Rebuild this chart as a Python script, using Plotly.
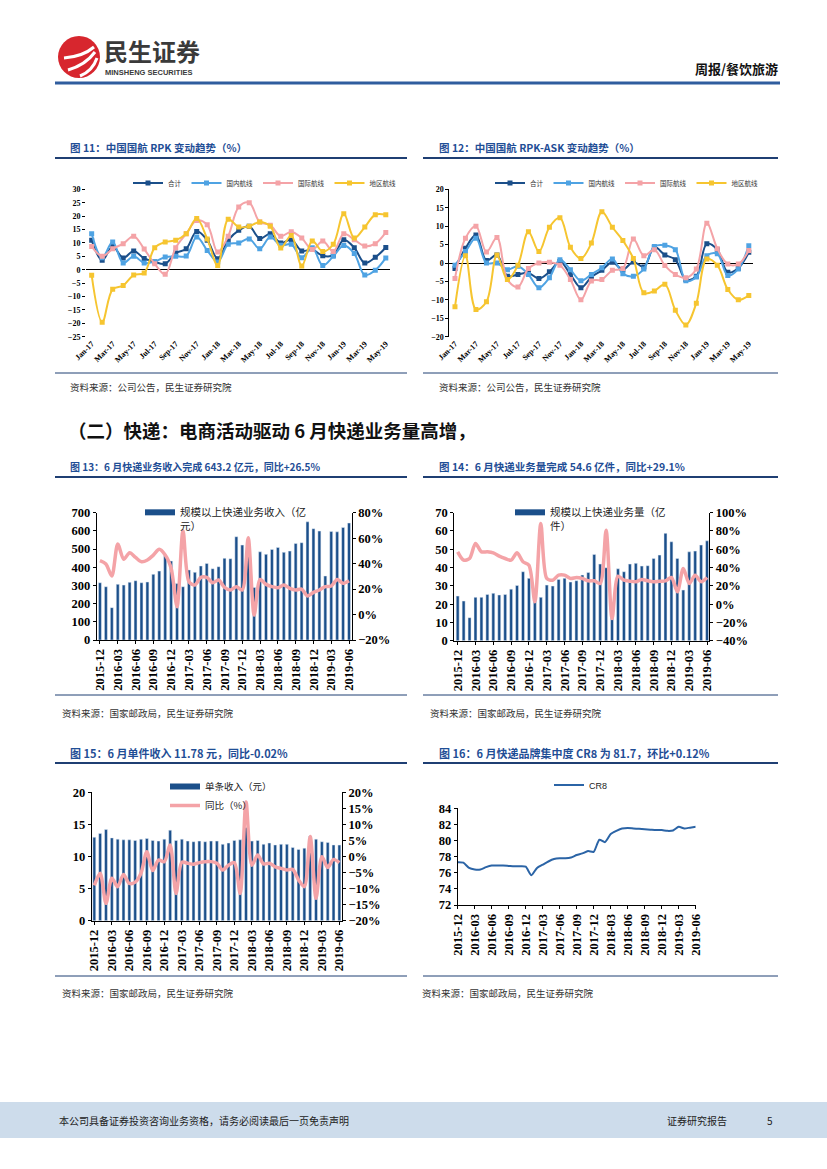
import plotly.graph_objects as go
import pandas as pd

W, H = 827, 1169
def fx(px): return px / W
def fy(py): return 1 - py / H

# ---------------- data ----------------
air_months = [d.strftime("%b-%y") for d in pd.date_range("2017-01-01", "2019-05-01", freq="MS")]
air_tick_labels = air_months[::2]
air_names = ["合计", "国内航线", "国际航线", "地区航线"]

rpk_total = [11.0,3.5,8.7,4.4,7.0,4.2,2.9,2.2,6.2,7.8,14.3,11.0,4.1,11.0,14.7,16.2,11.6,13.4,10.0,11.2,7.0,7.5,5.2,5.4,11.2,8.2,2.5,4.6,8.3]
rpk_dom = [13.4,4.5,10.3,2.5,5.0,2.5,3.0,4.7,5.0,5.1,12.2,7.2,2.9,9.5,10.0,11.5,7.8,12.2,9.1,9.5,4.5,8.2,1.6,5.0,9.0,6.0,-2.0,-0.2,4.4]
rpk_int = [8.7,5.0,7.8,9.7,12.5,7.7,2.2,-1.7,8.2,13.4,18.4,16.8,6.6,12.5,23.4,25.0,17.8,16.6,12.5,14.2,11.8,7.5,10.7,6.8,13.4,11.2,8.8,9.7,13.9]
rpk_reg = [-2.1,-19.6,-7.3,-5.9,-2.0,-1.2,8.2,10.3,11.0,13.4,19.1,11.5,1.6,18.8,15.9,16.2,17.8,16.2,8.1,12.8,1.4,10.7,6.8,9.5,20.9,11.8,15.9,20.5,20.5]

gap_total = [-1.5,4.0,7.6,0.7,2.2,-3.6,-3.1,-2.7,-4.2,-2.4,0.4,-3.1,-6.7,-3.8,-2.0,0.2,-1.8,0.3,-1.1,4.3,2.2,0.9,-4.5,-3.6,5.2,3.6,-2.5,-1.4,2.9]
gap_dom = [-0.6,3.1,6.7,0.0,0.0,-1.8,-0.9,-3.1,-6.7,-4.0,0.9,-1.8,-4.8,-3.1,-1.3,1.1,-2.9,-3.6,-1.6,4.5,4.8,3.6,-4.8,-3.8,2.0,2.5,-3.4,-1.6,4.7]
gap_int = [-4.2,6.7,10.0,3.0,6.9,-4.5,-6.5,-1.5,0.0,0.2,-0.6,-4.5,-10.0,-4.9,-4.5,-2.0,-1.5,6.5,2.0,3.6,-0.7,-3.1,-4.0,-1.6,10.8,3.9,-0.3,-0.3,3.4]
gap_reg = [-11.9,2.0,-12.6,-10.5,2.2,-4.5,-0.6,8.5,3.1,9.7,12.3,4.3,1.2,5.4,13.9,9.7,6.1,1.2,-8.1,-7.6,-5.8,-12.8,-16.8,-10.9,1.1,-0.6,-7.2,-10.0,-8.8]

exp_months = [d.strftime("%Y-%m") for d in pd.date_range("2015-12-01", "2019-06-01", freq="MS")]
exp_tick_labels = exp_months[::3]

exp_rev = [315,293,178,306,302,317,326,315,319,361,379,465,434,310,293,385,372,407,421,392,403,449,447,568,522,500,289,485,471,498,509,482,489,531,535,650,612,599,352,597,595,619,643.2]
exp_rev_yoy = [42.3,39.7,30.3,55.4,43.4,48.6,44.9,41.5,42.8,46.7,51.2,46.7,36.3,6.2,65.9,25.8,23.2,29.2,29.2,25.0,27.1,21.4,19.3,21.9,19.3,60.3,-0.4,27.6,23.7,21.9,21.1,23.2,20.6,19.3,20.0,14.6,17.4,19.3,21.9,22.4,27.6,24.5,26.5]
exp_vol = [24.4,21.7,12.6,23.7,23.7,25.3,25.9,25.0,25.3,28.2,30.2,37.7,34.1,22.0,23.7,30.4,29.9,33.5,34.1,32.1,32.8,35.9,37.3,47.2,41.9,39.9,20.0,39.3,37.7,41.9,42.3,40.8,41.0,45.0,46.8,58.7,54.1,45.0,27.7,48.6,49.0,52.3,54.6]
exp_vol_yoy = [57.2,48.1,49.9,66.3,57.2,57.2,56.1,52.5,49.9,48.1,56.1,46.3,42.6,2.6,88.2,28.1,26.2,31.7,31.7,28.1,29.1,28.1,25.5,25.5,22.6,80.9,-15.7,30.6,26.2,25.1,24.4,27.0,25.5,24.4,25.1,25.5,29.1,13.5,39.0,22.6,31.7,24.4,29.1]
exp_unit = [13.0,13.6,14.2,12.9,12.7,12.6,12.6,12.5,12.7,12.8,12.5,12.4,12.7,14.1,12.5,12.7,12.4,12.3,12.4,12.3,12.4,12.4,11.9,12.1,12.5,12.6,14.5,12.4,12.5,11.9,12.1,11.8,11.9,11.9,11.4,11.1,11.3,13.2,12.7,12.3,12.2,11.8,11.78]
exp_unit_yoy = [-9.0,-5.2,-14.6,-6.8,-9.4,-5.6,-8.4,-8.0,-5.2,1.5,-4.4,-1.1,-1.6,3.6,-11.5,-1.8,-2.1,-2.4,-1.9,-1.6,-1.6,-2.1,-4.2,-2.7,-1.9,-11.5,17.0,-2.7,0.5,-2.3,-2.1,-3.2,-3.7,-4.2,-4.0,-7.3,-9.4,6.2,-13.0,-0.1,-3.4,-0.9,-1.9]
exp_cr8 = [77.3,77.25,76.6,76.4,76.4,76.7,76.9,76.9,76.9,76.85,76.8,76.8,76.75,75.7,76.6,77.0,77.4,77.7,77.8,77.8,77.9,78.2,78.4,78.7,78.6,80.1,79.8,80.8,81.2,81.5,81.55,81.5,81.45,81.4,81.35,81.3,81.3,81.2,81.25,81.7,81.5,81.6,81.7]

# ---------------- styles ----------------
NAVY = "#1B4F8A"
LBLUE = "#4FA3E3"
PINK = "#F4A3A7"
YELLOW = "#F6C530"
CRBLUE = "#2B64A6"
TITLE_BLUE = "#1F4E96"
RULE = "#1F3F73"
SERIF = "Liberation Serif"
CJK = "Noto Sans CJK SC"

fig = go.Figure()

# ---- chart 11 / 12: airline lines ----
air_colors = [NAVY, LBLUE, PINK, YELLOW]
for series, (xa, ya, lg) in [([rpk_total, rpk_dom, rpk_int, rpk_reg], ("x", "y", "legend")),
                             ([gap_total, gap_dom, gap_int, gap_reg], ("x2", "y2", "legend2"))]:
    for name, vals, col in zip(air_names, series, air_colors):
        fig.add_trace(go.Scatter(
            x=air_months, y=vals, name=name, mode="lines+markers",
            line=dict(color=col, width=2, shape="spline", smoothing=1.0),
            marker=dict(symbol="square", size=5, color=col),
            xaxis=xa, yaxis=ya, legend=lg))

# ---- chart 13 ----
fig.add_trace(go.Bar(x=exp_months, y=exp_rev, marker_color=NAVY, width=0.5,
                     xaxis="x3", yaxis="y3", showlegend=False))
fig.add_trace(go.Scatter(x=exp_months, y=exp_rev_yoy, mode="lines",
                         line=dict(color=PINK, width=3.5, shape="spline", smoothing=0.8),
                         xaxis="x3", yaxis="y4", showlegend=False))
fig.add_trace(go.Scatter(x=[None], y=[None], mode="lines", line=dict(color=NAVY, width=6),
                         name="规模以上快递业务收入（亿<br>元）", xaxis="x3", yaxis="y3", legend="legend3"))

# ---- chart 14 ----
fig.add_trace(go.Bar(x=exp_months, y=exp_vol, marker_color=NAVY, width=0.5,
                     xaxis="x4", yaxis="y5", showlegend=False))
fig.add_trace(go.Scatter(x=exp_months, y=exp_vol_yoy, mode="lines",
                         line=dict(color=PINK, width=3.5, shape="spline", smoothing=0.8),
                         xaxis="x4", yaxis="y6", showlegend=False))
fig.add_trace(go.Scatter(x=[None], y=[None], mode="lines", line=dict(color=NAVY, width=6),
                         name="规模以上快递业务量（亿<br>件）", xaxis="x4", yaxis="y5", legend="legend4"))

# ---- chart 15 ----
fig.add_trace(go.Bar(x=exp_months, y=exp_unit, marker_color=NAVY, width=0.5,
                     xaxis="x5", yaxis="y7", showlegend=False))
fig.add_trace(go.Scatter(x=exp_months, y=exp_unit_yoy, mode="lines",
                         line=dict(color=PINK, width=3.5, shape="spline", smoothing=0.8),
                         xaxis="x5", yaxis="y8", showlegend=False))
fig.add_trace(go.Scatter(x=[None], y=[None], mode="lines", line=dict(color=NAVY, width=6),
                         name="单条收入（元）", xaxis="x5", yaxis="y7", legend="legend5"))
fig.add_trace(go.Scatter(x=[None], y=[None], mode="lines", line=dict(color=PINK, width=3.5),
                         name="同比（%）", xaxis="x5", yaxis="y8", legend="legend5"))

# ---- chart 16 ----
fig.add_trace(go.Scatter(x=exp_months, y=exp_cr8, mode="lines", name="CR8",
                         line=dict(color=CRBLUE, width=2, shape="spline", smoothing=0.6),
                         xaxis="x6", yaxis="y9", legend="legend6"))

# ---------------- axes ----------------
tick_serif = lambda s: dict(family=SERIF, size=s, color="black", weight="bold")

def air_x(dom, anchor):
    return dict(domain=[fx(dom[0]), fx(dom[1])], anchor=anchor, type="category",
                range=[-0.54, 28.4], tickmode="array", tickvals=air_tick_labels,
                tickangle=-45, tickfont=tick_serif(8), showline=False, showgrid=False,
                zeroline=False, ticks="", automargin=False)

def air_y(dom, anchor, rng, line):
    return dict(domain=[fy(dom[1]), fy(dom[0])], anchor=anchor, range=rng, dtick=5,
                tickfont=tick_serif(8), showgrid=False, zeroline=True,
                zerolinecolor="black", zerolinewidth=1, ticks="outside", ticklen=3,
                tickcolor="black", showline=line, linecolor="black", linewidth=1,
                automargin=False)

def exp_x(dom, anchor, rng):
    return dict(domain=[fx(dom[0]), fx(dom[1])], anchor=anchor, type="category",
                range=rng, tickmode="array", tickvals=exp_tick_labels, tickangle=-90,
                tickfont=tick_serif(12.5), showline=True, linecolor="black", linewidth=1,
                ticks="outside", ticklen=3, tickcolor="black", showgrid=False, zeroline=False,
                automargin=False)

def exp_y(dom, anchor, rng, dt, suffix="", side="left", overlay=None):
    d = dict(anchor=anchor, range=rng, dtick=dt, ticksuffix=suffix, side=side,
             tickfont=tick_serif(12.5), showline=True, linecolor="black", linewidth=1,
             ticks="outside", ticklen=3, tickcolor="black", showgrid=False, zeroline=False,
             automargin=False)
    if overlay:
        d["overlaying"] = overlay
    else:
        d["domain"] = [fy(dom[1]), fy(dom[0])]
    return d

layout_axes = dict(
    xaxis=air_x((86, 390), "y"),
    yaxis=air_y((189.3, 336.7), "x", [-25, 30], False),
    xaxis2=air_x((449.3, 753), "y2"),
    yaxis2=air_y((189.3, 336.7), "x2", [-20, 20], True),
    xaxis3=exp_x((96.7, 351.7), "y3", [-0.55, 42.45]),
    yaxis3=exp_y((512.7, 640), "x3", [0, 700], 100),
    yaxis4=exp_y(None, "x3", [-20, 80], 20, "%", "right", "y3"),
    xaxis4=exp_x((454.3, 709.3), "y5", [-0.57, 42.38]),
    yaxis5=exp_y((512.7, 640.7), "x4", [0, 70], 10),
    yaxis6=exp_y(None, "x4", [-40, 100], 20, "%", "right", "y5"),
    xaxis5=exp_x((91.7, 342), "y7", [-0.45, 42.45]),
    yaxis7=exp_y((792.3, 920.7), "x5", [0, 20], 5),
    yaxis8=exp_y(None, "x5", [-20, 20], 5, "%", "right", "y7"),
    xaxis6=exp_x((457.7, 695.7), "y9", [0, 42]),
    yaxis9=exp_y((808.3, 905), "x6", [72, 84], 2),
)

legend_common = dict(bgcolor="rgba(0,0,0,0)", borderwidth=0)
layout_legends = dict(
    legend=dict(x=fx(128), y=fy(183), xanchor="left", yanchor="middle", orientation="h",
                font=dict(family=CJK, size=6.5, color="#333"), itemwidth=30, **legend_common),
    legend2=dict(x=fx(490), y=fy(183), xanchor="left", yanchor="middle", orientation="h",
                 font=dict(family=CJK, size=6.5, color="#333"), itemwidth=30, **legend_common),
    legend3=dict(x=fx(140), y=fy(499), xanchor="left", yanchor="top", valign="top",
                 font=dict(family=CJK, size=10.5, color="#222"), itemwidth=30, **legend_common),
    legend4=dict(x=fx(510), y=fy(499), xanchor="left", yanchor="top", valign="top",
                 font=dict(family=CJK, size=10.5, color="#222"), itemwidth=30, **legend_common),
    legend5=dict(x=fx(165), y=fy(772), xanchor="left", yanchor="top", tracegroupgap=0,
                 font=dict(family=CJK, size=9.5, color="#222"), itemwidth=30, **legend_common),
    legend6=dict(x=fx(549), y=fy(785), xanchor="left", yanchor="middle",
                 font=dict(family="Liberation Sans", size=9, color="#222"), itemwidth=30, **legend_common),
)

# ---------------- page decoration ----------------
shapes = []
def hline(x0, x1, y, color=RULE, w=1.5):
    shapes.append(dict(type="line", xref="paper", yref="paper", x0=fx(x0), x1=fx(x1),
                       y0=fy(y), y1=fy(y), line=dict(color=color, width=w)))

hline(55, 780, 83, "#2F5D9E", 3)
for y in (158, 477, 763):
    hline(55, 407, y, RULE, 2)
    hline(423, 778, y, RULE, 2)
for y in (373, 695, 976):
    hline(55, 407, y, RULE, 1)
    hline(423, 778, y, RULE, 1)

# footer band
shapes.append(dict(type="rect", xref="paper", yref="paper", x0=0, x1=1, y0=fy(1138), y1=fy(1102),
                   fillcolor="#CDDCEB", line=dict(width=0), layer="below"))
# logo
shapes.append(dict(type="circle", xref="paper", yref="paper", x0=fx(58), x1=fx(100), y0=fy(78), y1=fy(36),
                   fillcolor="#D7262E", line=dict(width=0)))
for (ax, ay, bx, by) in [(64, 58, 94, 47), (68, 70, 95, 52), (80, 76, 97, 58)]:
    shapes.append(dict(type="path", xref="paper", yref="paper",
                       path=f"M {fx(ax)},{fy(ay)} Q {fx((ax+bx)/2+4)},{fy((ay+by)/2+4)} {fx(bx)},{fy(by)}",
                       line=dict(color="white", width=3)))

ann = []
def text(x, y, s, size, color="#222", family=CJK, bold=False, xanchor="left", yanchor="middle"):
    ann.append(dict(x=fx(x), y=fy(y), xref="paper", yref="paper", text=s, showarrow=False,
                    xanchor=xanchor, yanchor=yanchor,
                    font=dict(family=family, size=size, color=color, weight="bold" if bold else "normal")))

text(102, 51, "民生证券", 24, "#3A3A3A", bold=True)
text(103, 73, "MINSHENG SECURITIES", 7.5, "#3A3A3A", family="Liberation Sans", bold=True)
text(780, 69, "周报/餐饮旅游", 13, "#111", bold=True, xanchor="right")

text(68, 148, "图 11：中国国航 RPK 变动趋势（%）", 10.5, TITLE_BLUE, bold=True)
text(437, 148, "图 12：中国国航 RPK-ASK 变动趋势（%）", 10.5, TITLE_BLUE, bold=True)
text(68, 387, "资料来源：公司公告，民生证券研究院", 9.5, "#333")
text(437, 387, "资料来源：公司公告，民生证券研究院", 9.5, "#333")

text(66, 430, "（二）快递：电商活动驱动 6 月快递业务量高增，", 18.5, "#111", bold=True)

text(68, 466, "图 13：6 月快递业务收入完成 643.2 亿元，同比+26.5%", 10, TITLE_BLUE, bold=True)
text(437, 466, "图 14：6 月快递业务量完成 54.6 亿件，同比+29.1%", 10.5, TITLE_BLUE, bold=True)
text(60, 713, "资料来源：国家邮政局，民生证券研究院", 9.5, "#333")
text(428, 713, "资料来源：国家邮政局，民生证券研究院", 9.5, "#333")

text(68, 753, "图 15：6 月单件收入 11.78 元，同比-0.02%", 11, TITLE_BLUE, bold=True)
text(437, 753, "图 16：6 月快递品牌集中度 CR8 为 81.7，环比+0.12%", 11, TITLE_BLUE, bold=True)
text(60, 993, "资料来源：国家邮政局，民生证券研究院", 9.5, "#333")
text(420, 993, "资料来源：国家邮政局，民生证券研究院", 9.5, "#333")

text(57, 1120, "本公司具备证券投资咨询业务资格，请务必阅读最后一页免责声明", 10, "#222")
text(665, 1120, "证券研究报告", 10, "#222")
text(765, 1120, "5", 10, "#222")

fig.update_layout(
    width=W, height=H, margin=dict(l=0, r=0, t=0, b=0, autoexpand=False),
    paper_bgcolor="white", plot_bgcolor="rgba(0,0,0,0)",
    shapes=shapes, annotations=ann, barmode="overlay",
    **layout_axes, **layout_legends,
)

fig.write_html("out.html", config={"displayModeBar": False},
               post_script="document.body.style.margin='0';document.body.style.overflow='hidden';"
                           "document.documentElement.style.overflow='hidden';")
